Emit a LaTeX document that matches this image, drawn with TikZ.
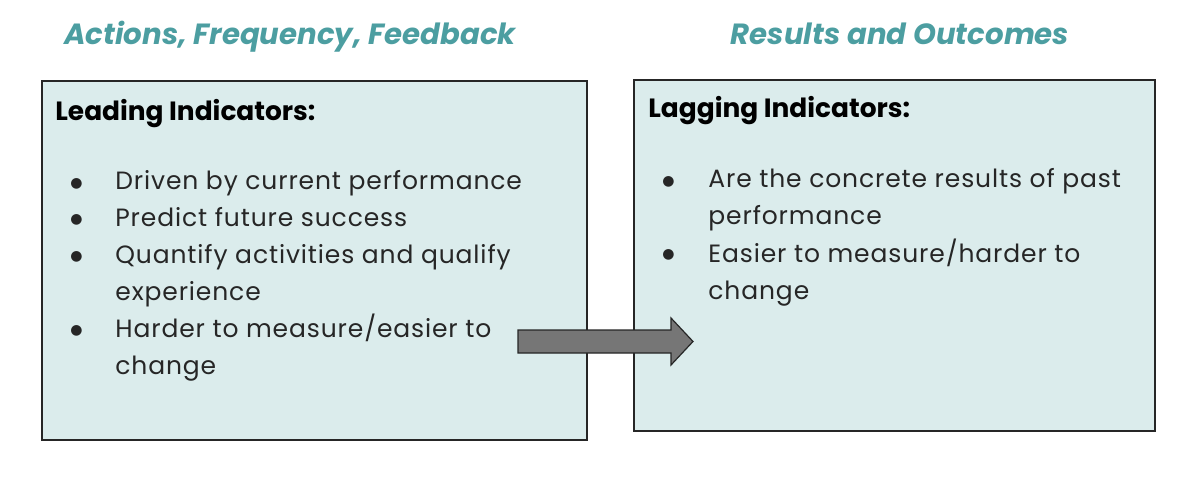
\documentclass[tikz,border=0pt]{standalone}
\usepackage{fontspec}
\setmainfont{Poppins}
\newfontfamily\dotfont{DejaVu Sans}
\usepackage{array}
\usetikzlibrary{positioning}
\definecolor{indteal}{HTML}{4C9EA1}
\definecolor{indfill}{HTML}{DBECEC}
\definecolor{indarrow}{HTML}{767676}
\definecolor{indline}{HTML}{262626}
\newcommand{\dotitem}{\raisebox{1.5pt}{\dotfont\fontsize{7}{7}\selectfont ●}}

\begin{document}
\begin{tikzpicture}[
  x=1pt, y=-1pt,
  font=\addfontfeatures{LetterSpace=3.5}\fontsize{12.5}{18.5}\selectfont,
  panel/.style={draw=indline, line width=1.3pt, fill=indfill, inner sep=0pt},
  heading/.style={font=\fontsize{14.6}{16}\selectfont\bfseries\itshape, text=indteal, anchor=base},
  title/.style={font=\fontsize{13.2}{14}\selectfont\bfseries, anchor=base west, inner sep=0pt},
  itemlist/.style={anchor=base west, inner sep=0pt, text=black!85},
  blockarrow/.style={fill=indarrow, draw=indline, line width=0.6pt, line join=miter}
]
\useasboundingbox (0,0) rectangle (600,246);

% headings
\node[heading] (acts) at (145,22.5) {Actions, Frequency, Feedback};
\node[heading] (results) at (450,22.5) {Results and Outcomes};

% panels
\node[panel, minimum width=272.5pt, minimum height=179.5pt] (leading) at (157.25,130.25) {};
\node[panel, minimum width=260.5pt, minimum height=175.5pt] (lagging) at (447.25,127.75) {};

% panel titles
\node[title] (leadtitle) at (27.5,60) {Leading Indicators:};
\node[title] (lagtitle) at (324,59) {Lagging Indicators:};

% bullet lists
\node[itemlist] (leaditems) at (35,95) {%
  \begin{tabular}[t]{@{}p{22.5pt}@{}l@{}}
  \dotitem & Driven by current performance\\
  \dotitem & Predict future success\\
  \dotitem & Quantify activities and qualify\\
           & experience\\
  \dotitem & Harder to measure/easier to\\
           & change
  \end{tabular}};
\node[itemlist] (lagitems) at (331,94) {%
  \begin{tabular}[t]{@{}p{23pt}@{}l@{}}
  \dotitem & Are the concrete results of past\\
           & performance\\
  \dotitem & Easier to measure/harder to\\
           & change
  \end{tabular}};

% block arrow across the gap
\coordinate (tail) at (259,170.75);
\draw[blockarrow] (tail) ++(0,-5.75) -- ++(76.5,0) -- ++(0,-6) -- ++(11,11.75)
  -- ++(-11,11.75) -- ++(0,-6) -- ++(-76.5,0) -- cycle;
\end{tikzpicture}
\end{document}
